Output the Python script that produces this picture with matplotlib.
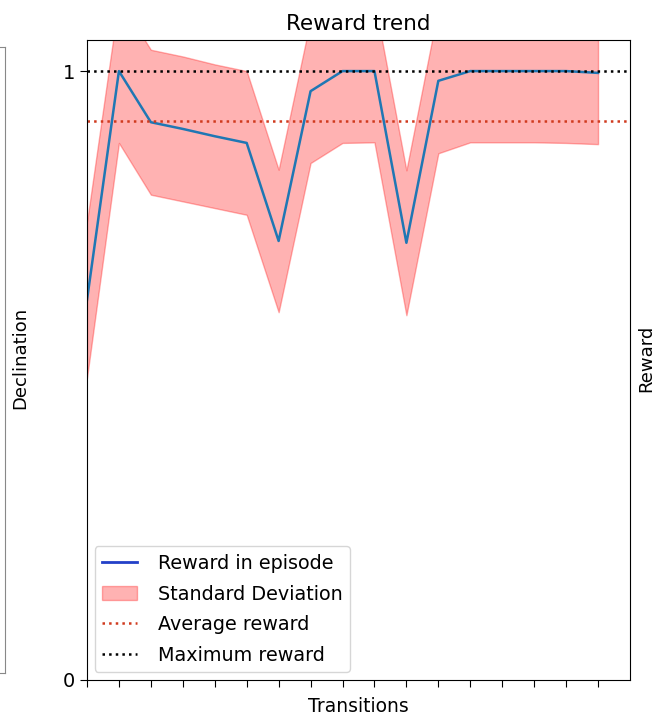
import matplotlib
matplotlib.use('Agg')
import matplotlib.pyplot as plt
import numpy as np
from matplotlib.lines import Line2D
from matplotlib.patches import Patch

# transition index, mean reward per episode and its standard deviation
steps = list(range(17))
reward = [0.624, 1.0, 0.916, 0.905, 0.893, 0.882, 0.721, 0.967, 1.0,
          1.0, 0.718, 0.984, 1.0, 1.0, 1.0, 1.0, 0.997]
std = [0.128, 0.118, 0.119, 0.119, 0.118, 0.118, 0.117, 0.118, 0.118,
       0.117, 0.119, 0.119, 0.117, 0.117, 0.117, 0.118, 0.117]
max_reward = 1.0

reward = np.array(reward)
std = np.array(std)
avg_reward = reward.mean()

fig = plt.figure(figsize=(6.55, 7.16), dpi=100)

# edge of the neighbouring panel on the left
left = fig.add_axes([-0.3, 0.06, 0.3076, 0.875])
left.set_xticks([])
left.set_yticks([])
for s in left.spines.values():
    s.set_color('#888888')

ax = fig.add_axes([0.1328, 0.0503, 0.8290, 0.8938])
ax.fill_between(steps, reward - std, reward + std, color='red', alpha=0.3)
ax.plot(steps, reward, color='#1f77b4', linewidth=1.8)
ax.axhline(avg_reward, color='#d03a1e', linestyle=':', linewidth=1.8)
ax.axhline(max_reward, color='black', linestyle=':', linewidth=1.8)

ax.set_xlim(0, 17)
ax.set_ylim(0, 1.051)
ax.set_xticks(steps)
ax.set_xticklabels([''] * len(steps))
ax.set_yticks([0, 1])
ax.set_yticklabels(['0', '1'], fontsize=14)
ax.tick_params(length=5)
ax.set_title('Reward trend', fontsize=15.5, pad=7)
ax.set_xlabel('Transitions', fontsize=13.5, labelpad=4)

handles = [Line2D([0], [0], color='#2340c8', linewidth=2),
           Patch(facecolor='red', edgecolor='red', alpha=0.3),
           Line2D([0], [0], color='#d03a1e', linestyle=':', linewidth=1.8),
           Line2D([0], [0], color='black', linestyle=':', linewidth=1.8)]
labels = ['Reward in episode', 'Standard Deviation', 'Average reward', 'Maximum reward']
ax.legend(handles, labels, loc='lower left', fontsize=13.8, handlelength=1.8,
          handletextpad=1.1, labelspacing=0.6, borderaxespad=0.4)

fig.text(0.031, 0.50, 'Declination', rotation=90, ha='center', va='center', fontsize=13)
fig.text(0.986, 0.50, 'Reward', rotation=90, ha='center', va='center', fontsize=13)

fig.savefig('out.png', dpi=100)
